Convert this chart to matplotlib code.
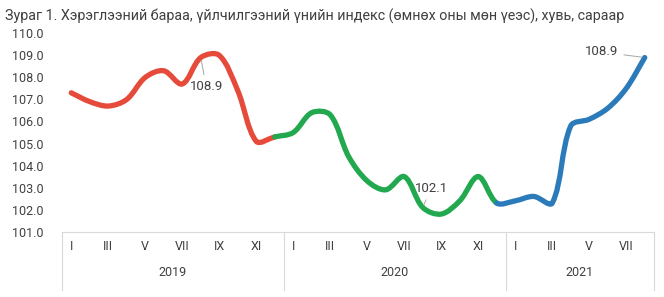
import numpy as np
import matplotlib
matplotlib.use("Agg")
import matplotlib.pyplot as plt
from matplotlib.path import Path
from matplotlib.patches import PathPatch

plt.rcParams['font.family'] = ['Roboto', 'DejaVu Sans']

# data: CPI, same month previous year = 100
years = ['2019', '2020', '2021']
cpi_2019 = [107.3, 106.9, 106.7, 107.0, 108.0, 108.3, 107.7, 108.9, 109.0, 107.4, 105.1, 105.3]
cpi_2020 = [105.5, 106.4, 106.3, 104.4, 103.3, 102.9, 103.5, 102.1, 101.8, 102.4, 103.5, 102.3]
cpi_2021 = [102.4, 102.6, 102.3, 105.8, 106.1, 106.6, 107.5, 108.9]
month_labels = ['I', '', 'III', '', 'V', '', 'VII', '', 'IX', '', 'XI', '']
colors = ['#e64a3b', '#22a84e', '#2b7bba']

title = 'Зураг 1. Хэрэглээний бараа, үйлчилгээний үнийн индекс (өмнөх оны мөн үеэс), хувь, сараар'

series = [cpi_2019, cpi_2020, cpi_2021]
values = np.array(cpi_2019 + cpi_2020 + cpi_2021)
n = len(values)
xs = np.arange(n)


# smoothed line, tangents weighted by chord length (measured on screen scale)
def bezier_segments(x, y, sx=18.5, sy=22.0):
    p = np.column_stack([x, y]).astype(float)
    pp = np.vstack([p[0], p, p[-1]])
    scale = np.array([sx, sy])
    d = np.r_[0.0, np.hypot(*((np.diff(p, axis=0)) * scale).T), 0.0]
    tan_in, tan_out = [], []
    for i in range(len(p)):
        t = pp[i + 2] - pp[i]
        tot = d[i] + d[i + 1]
        tan_in.append(t * (d[i] / tot) / 3.0 if tot else t * 0)
        tan_out.append(t * (d[i + 1] / tot) / 3.0 if tot else t * 0)
    segs = []
    for i in range(len(p) - 1):
        c1 = p[i] + tan_out[i]
        c2 = p[i + 1] - tan_in[i + 1]
        segs.append((p[i], c1, c2, p[i + 1]))
    return segs


segs = bezier_segments(xs, values)

fig = plt.figure(figsize=(6.64, 2.97), dpi=100)
ax = fig.add_axes([62 / 664, 1 - 231.7 / 297, 592 / 664, 198.4 / 297])

start = 0
for k, s in enumerate(series):
    end = start + len(s) - 1
    first = max(start - 1, 0)
    verts, codes = [], []
    for i in range(first, end):
        a, c1, c2, b = segs[i]
        if not verts:
            verts.append(a)
            codes.append(Path.MOVETO)
        verts += [c1, c2, b]
        codes += [Path.CURVE4] * 3
    patch = PathPatch(Path(verts, codes), fill=False, edgecolor=colors[k],
                      lw=3.8, capstyle='round', joinstyle='round', zorder=3)
    ax.add_patch(patch)
    start = end + 1

ax.set_xlim(-0.5, n - 0.5)
ax.set_ylim(101, 110)
ax.set_yticks(np.arange(101, 110.5, 1))
ax.set_yticklabels(['%.1f' % v for v in np.arange(101, 110.5, 1)])

ax.set_xticks(xs)
ax.set_xticklabels((month_labels * 3)[:n])
ax.tick_params(axis='both', length=0, labelsize=9, colors='#404040')
ax.tick_params(axis='y', pad=13)
ax.tick_params(axis='x', pad=6)

for sp in ['top', 'right', 'left']:
    ax.spines[sp].set_visible(False)
ax.spines['bottom'].set_color('#d9d9d9')
ax.spines['bottom'].set_linewidth(0.8)

# year groups under the months
tr = ax.get_xaxis_transform()
start = 0
bounds = [-0.5]
for k, s in enumerate(series):
    end = start + len(s)
    ax.text((start + end - 1) / 2, -0.205, years[k], transform=tr,
            ha='center', va='center', fontsize=9, color='#404040')
    bounds.append(end - 0.5)
    start = end
for b in bounds:
    ax.plot([b, b], [0, -0.295], transform=tr, color='#d9d9d9', lw=0.8,
            clip_on=False)

# value labels
ann = dict(fontsize=9.5, color='#404040', ha='center', va='center',
           arrowprops=dict(arrowstyle='-', color='#a6a6a6', lw=0.7,
                           shrinkA=2, shrinkB=2))
ax.annotate('%.1f' % cpi_2019[7], xy=(7, cpi_2019[7]), xytext=(4, -21),
            textcoords='offset points', **ann)
i20 = len(cpi_2019) + 7
ax.annotate('%.1f' % values[i20], xy=(i20, values[i20]), xytext=(6, 14),
            textcoords='offset points', **ann)
ax.annotate('%.1f' % values[-1], xy=(n - 1, values[-1]), xytext=(-31, 4),
            textcoords='offset points', **ann)

fig.text(5 / 664, 1 - 16 / 297, title, fontsize=10.3, color='#404040',
         ha='left', va='center')

fig.savefig('out.png', dpi=100)
